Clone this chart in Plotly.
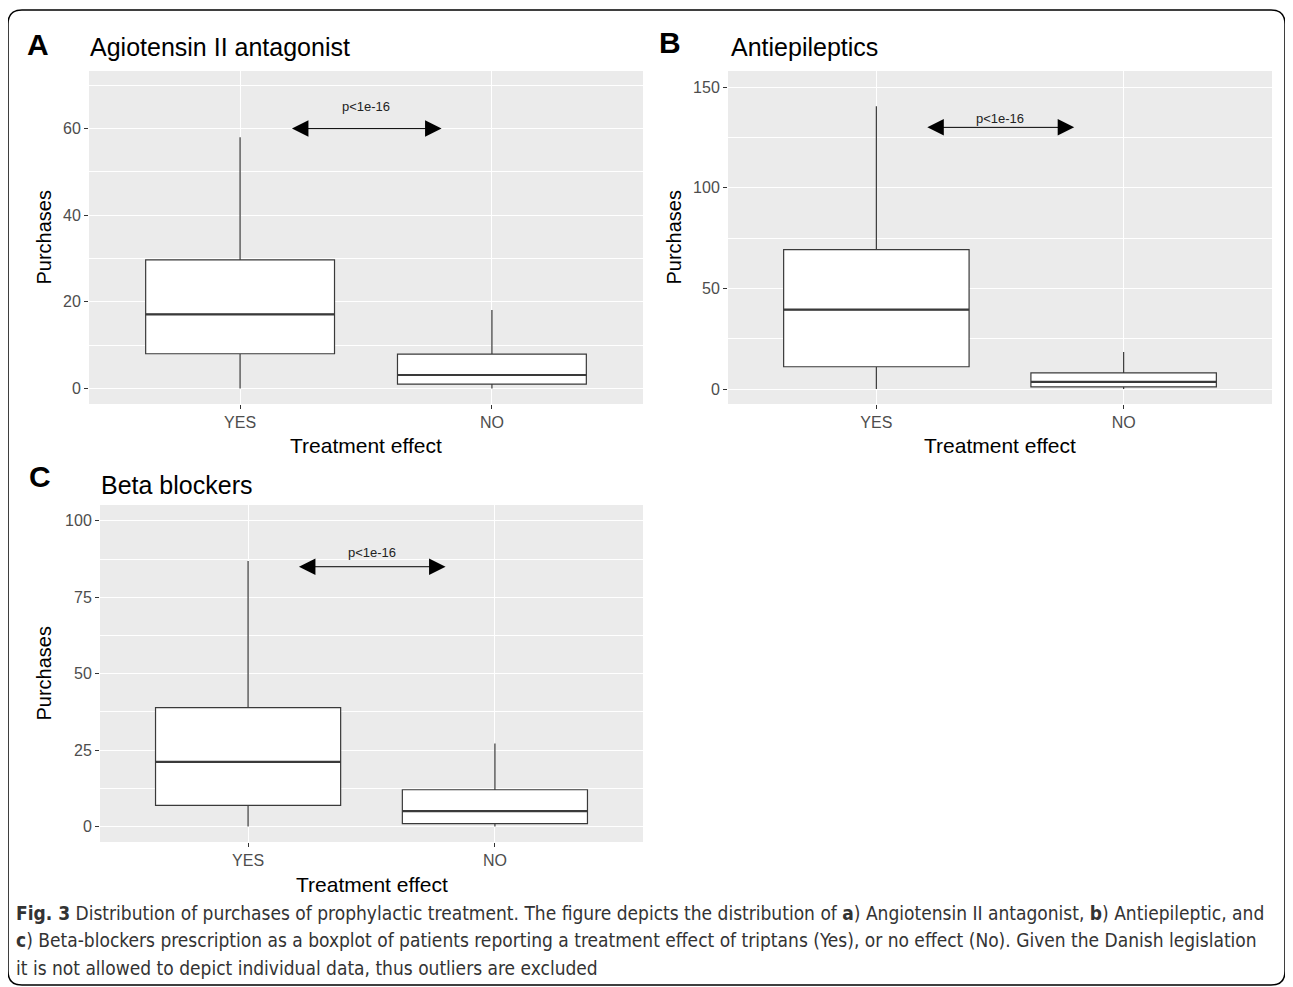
import plotly.graph_objects as go

# the page body has an 8px margin; the figure is sized/offset to compensate
OFF = 8
FW, FH = 1285, 979

# ---------------- data ----------------
categories = ["YES", "NO"]
cat_pos = [1, 2]

panel_letters = ["A", "B", "C"]
panel_titles = ["Agiotensin II antagonist", "Antiepileptics", "Beta blockers"]

# A: Angiotensin II antagonist
q1_A = [8.0, 1.0]
med_A = [17.1, 3.1]
q3_A = [29.7, 7.9]
lo_A = [0.0, 0.0]
hi_A = [58.0, 18.1]
yticks_A = [0, 20, 40, 60]
yminor_A = [10, 30, 50, 70]
yrange_A = [-3.6, 73.3]
arrow_y_A = 60
label_y_A = 65

# B: Antiepileptics
q1_B = [11.1, 1.1]
med_B = [39.5, 3.6]
q3_B = [69.3, 8.1]
lo_B = [0.0, 0.0]
hi_B = [140.5, 18.4]
yticks_B = [0, 50, 100, 150]
yminor_B = [25, 75, 125]
yrange_B = [-7.4, 158]
arrow_y_B = 130
label_y_B = 134.5

# C: Beta blockers
q1_C = [6.9, 0.9]
med_C = [21.1, 5.0]
q3_C = [38.9, 12.0]
lo_C = [0.0, 0.0]
hi_C = [86.9, 27.1]
yticks_C = [0, 25, 50, 75, 100]
yminor_C = [12.5, 37.5, 62.5, 87.5]
yrange_C = [-5.1, 105.2]
arrow_y_C = 85
label_y_C = 89.5

arrow_x = [1.2, 1.8]
p_label = "p&lt;1e-16"

# ---------------- layout helpers ----------------
def px(x):
    return (x - OFF) / FW

def py(y):
    return 1 - (y - OFF) / FH

# plot-area pixel boxes in page coordinates (left, top, right, bottom)
boxes = [(89, 71, 643, 404), (728, 71, 1272, 404), (100, 505, 643, 842)]
ytitle_offsets = [46, 55, 57]

panel_data = [
    (q1_A, med_A, q3_A, lo_A, hi_A, yticks_A, yminor_A, yrange_A, arrow_y_A, label_y_A),
    (q1_B, med_B, q3_B, lo_B, hi_B, yticks_B, yminor_B, yrange_B, arrow_y_B, label_y_B),
    (q1_C, med_C, q3_C, lo_C, hi_C, yticks_C, yminor_C, yrange_C, arrow_y_C, label_y_C),
]

FONT = "Liberation Sans, Arial, sans-serif"
BOX_LINE = "#3a3a3a"
BOX_W = 0.75

fig = go.Figure()
annotations = []
layout_axes = {}

for i, (q1, med, q3, lo, hi, yt, ymin, yr, ay, ly) in enumerate(panel_data):
    n = "" if i == 0 else str(i + 1)
    xa, ya = "x" + n, "y" + n
    for j, pos in enumerate(cat_pos):
        fig.add_trace(go.Box(
            x=[pos], q1=[q1[j]], median=[med[j]], q3=[q3[j]],
            lowerfence=[lo[j]], upperfence=[hi[j]],
            width=BOX_W, whiskerwidth=0, boxpoints=False,
            fillcolor="white", line=dict(color=BOX_LINE, width=1.2),
            xaxis=xa, yaxis=ya, showlegend=False, hoverinfo="skip",
        ))
        fig.add_trace(go.Scatter(
            x=[pos - BOX_W / 2, pos + BOX_W / 2], y=[med[j], med[j]],
            mode="lines", line=dict(color=BOX_LINE, width=2.2),
            xaxis=xa, yaxis=ya, showlegend=False, hoverinfo="skip",
        ))
    l, t, r, b = boxes[i]
    layout_axes["xaxis" + n] = dict(
        domain=[px(l), px(r)], anchor=ya, range=[0.4, 2.6],
        tickvals=cat_pos, ticktext=categories,
        showgrid=True, gridcolor="white", gridwidth=1.1,
        zeroline=False, showline=False,
        ticks="outside", ticklen=4, tickcolor="#333333", tickwidth=1,
        tickfont=dict(family=FONT, size=16, color="#4D4D4D"),
        fixedrange=True,
    )
    layout_axes["yaxis" + n] = dict(
        domain=[py(b), py(t)], anchor=xa, range=yr,
        tickvals=yt, showgrid=True, gridcolor="white", gridwidth=1.1,
        minor=dict(tickvals=ymin, showgrid=True, gridcolor="white", gridwidth=0.5, ticks=""),
        zeroline=False, showline=False,
        ticks="outside", ticklen=4, tickcolor="#333333", tickwidth=1,
        tickfont=dict(family=FONT, size=16, color="#4D4D4D"),
        fixedrange=True,
    )
    # double-headed arrow
    annotations.append(dict(
        x=arrow_x[1], y=ay, ax=arrow_x[0], ay=ay,
        xref=xa, yref=ya, axref=xa, ayref=ya,
        text="", showarrow=True, arrowside="end+start",
        arrowhead=2, startarrowhead=2, arrowsize=3.3, startarrowsize=3.3,
        arrowwidth=1, arrowcolor="black", standoff=0, startstandoff=0,
    ))
    annotations.append(dict(
        x=sum(arrow_x) / 2, y=ly, xref=xa, yref=ya, text=p_label,
        showarrow=False, font=dict(family=FONT, size=13, color="#222222"),
    ))
    # axis titles
    annotations.append(dict(
        x=px((l + r) / 2), y=py(b + 42), xref="paper", yref="paper",
        text="Treatment effect", showarrow=False, xanchor="center", yanchor="middle",
        font=dict(family=FONT, size=21, color="black"),
    ))
    annotations.append(dict(
        x=px(l - ytitle_offsets[i]), y=py((t + b) / 2), xref="paper", yref="paper",
        text="Purchases", showarrow=False, textangle=-90, xanchor="center", yanchor="middle",
        font=dict(family=FONT, size=20, color="black"),
    ))

# panel letters and titles
letter_pos = [(38, 45), (670, 42), (40, 476)]
title_pos = [(88, 47), (729, 47), (99, 485)]
for k in range(3):
    annotations.append(dict(
        x=px(letter_pos[k][0]), y=py(letter_pos[k][1]), xref="paper", yref="paper",
        text="<b>" + panel_letters[k] + "</b>", showarrow=False,
        xanchor="center", yanchor="middle",
        font=dict(family=FONT, size=30, color="black"),
    ))
    annotations.append(dict(
        x=px(title_pos[k][0]), y=py(title_pos[k][1]), xref="paper", yref="paper",
        text=panel_titles[k], showarrow=False, xanchor="left", yanchor="middle",
        font=dict(family=FONT, size=25, color="black"),
    ))

# caption
caption_lines = [
    "<b>Fig. 3</b> Distribution of purchases of prophylactic treatment. The figure depicts the distribution of "
    "<b>a</b>) Angiotensin II antagonist, <b>b</b>) Antiepileptic, and",
    "<b>c</b>) Beta-blockers prescription as a boxplot of patients reporting a treatment effect of triptans (Yes), "
    "or no effect (No). Given the Danish legislation",
    "it is not allowed to depict individual data, thus outliers are excluded",
]
caption_y = [913, 940, 968]
CAP_FONT = "Liberation Sans Narrow, DejaVu Sans Condensed, Arial Narrow, sans-serif"
for line, yy in zip(caption_lines, caption_y):
    annotations.append(dict(
        x=px(14), y=py(yy), xref="paper", yref="paper", text=line,
        showarrow=False, xanchor="left", yanchor="middle",
        font=dict(family=CAP_FONT, size=19, color="#333333"),
    ))

# rounded border
x0, y0, x1, y1, rr = 8, 10, 1285, 985, 14
path = (
    f"M {px(x0 + rr)} {py(y0)} L {px(x1 - rr)} {py(y0)} "
    f"Q {px(x1)} {py(y0)} {px(x1)} {py(y0 + rr)} "
    f"L {px(x1)} {py(y1 - rr)} Q {px(x1)} {py(y1)} {px(x1 - rr)} {py(y1)} "
    f"L {px(x0 + rr)} {py(y1)} Q {px(x0)} {py(y1)} {px(x0)} {py(y1 - rr)} "
    f"L {px(x0)} {py(y0 + rr)} Q {px(x0)} {py(y0)} {px(x0 + rr)} {py(y0)} Z"
)

fig.update_layout(
    width=FW, height=FH,
    margin=dict(l=0, r=0, t=0, b=0),
    paper_bgcolor="white",
    plot_bgcolor="#EBEBEB",
    showlegend=False,
    annotations=annotations,
    shapes=[dict(type="path", path=path, xref="paper", yref="paper",
                 line=dict(color="black", width=1.5), layer="above")],
    **layout_axes,
)

fig.write_html("out.html")
